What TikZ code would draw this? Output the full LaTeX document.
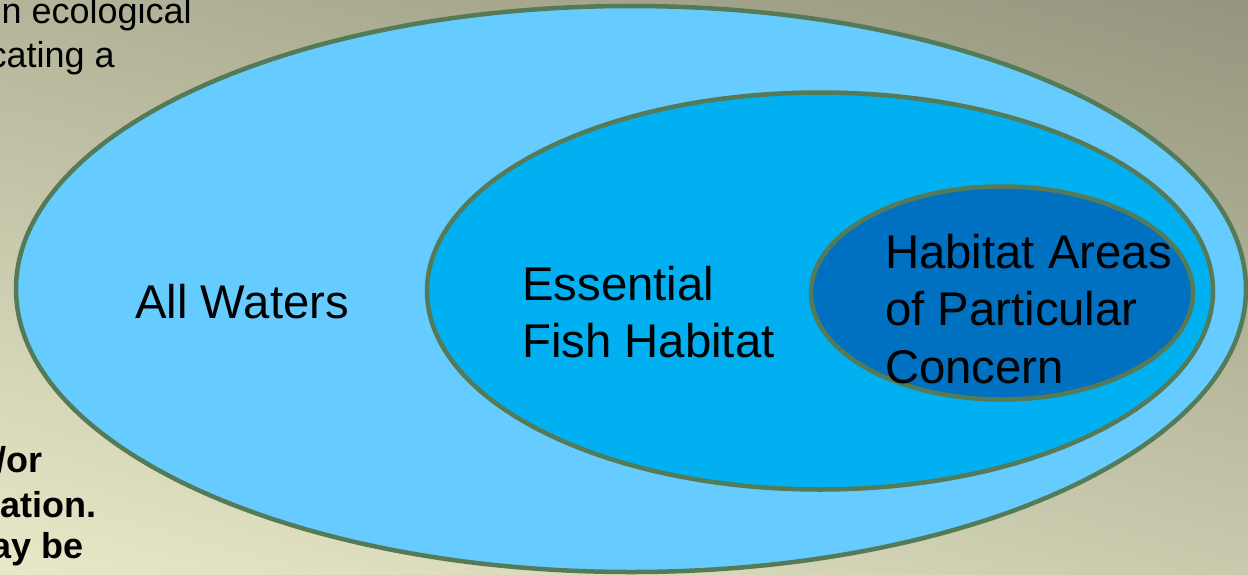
\documentclass[tikz,border=0pt]{standalone}
\usepackage{fontspec}
\setmainfont{Liberation Sans}
\usetikzlibrary{shapes.geometric}
\definecolor{rim}{RGB}{84,122,88}
\definecolor{waterA}{RGB}{102,204,255}
\definecolor{waterB}{RGB}{0,176,240}
\definecolor{waterC}{RGB}{0,112,192}
\definecolor{bgdark}{RGB}{128,130,107}
\definecolor{bglight}{RGB}{252,252,218}
\tikzstyle{zone}=[ellipse,draw=rim,line width=4.5pt,inner sep=0mm]
\tikzstyle{zonetext}=[inner sep=0mm,anchor=north west,align=left,font=\fontsize{47.3}{57.5}\selectfont]
\tikzstyle{note}=[inner sep=0mm,anchor=base east,font=\fontsize{36}{44}\selectfont]
\tikzstyle{boldnote}=[note,font=\fontsize{36}{44}\selectfont\bfseries]

\begin{document}
\begin{tikzpicture}[x=1pt,y=-1pt]
      \useasboundingbox (0,0) rectangle (1248,574);
      \clip (0,0) rectangle (1248,574);
      \shade[top color=bgdark,bottom color=bglight,shading angle=-15] (-26,-363) rectangle (1274,937);
      \node[note] at (192,23) (noteA) {n ecological};
      \node[note] at (115,67) (noteB) {cating a};
      \node[boldnote] at (43,472) (noteC) {/or};
      \node[boldnote] at (97,517) (noteD) {ation.};
      \node[boldnote] at (84,558) (noteE) {ay be};
      \node[zone,fill=waterA,minimum width=1230pt,minimum height=566pt] at (631,289) (allwaters) {};
      \node[zone,fill=waterB,minimum width=786pt,minimum height=397pt] at (820,291) (efh) {};
      \node[zone,fill=waterC,minimum width=382pt,minimum height=213pt] at (1002,293) (hapc) {};
      \node[zonetext] at (135,284) (allwaterslabel) {All Waters};
      \node[zonetext] at (522,266) (efhlabel) {Essential\\Fish Habitat};
      \node[zonetext] at (885,234) (hapclabel) {Habitat Areas\\of Particular\\Concern};
    \end{tikzpicture}
\end{document}
